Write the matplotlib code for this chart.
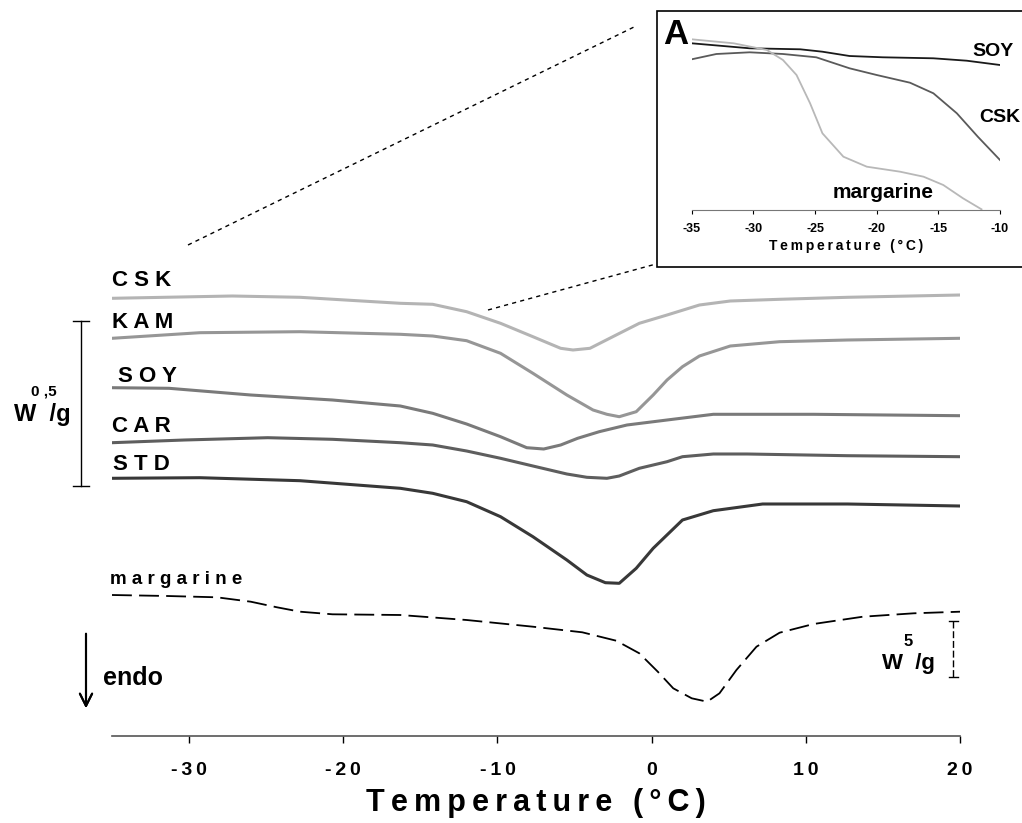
"""DSC melting curves of the fat samples, with the low-temperature inset."""

import matplotlib

matplotlib.use("Agg")
import matplotlib.pyplot as plt
from matplotlib.lines import Line2D
from matplotlib.patches import Rectangle

plt.rcParams["font.family"] = ["Liberation Sans", "DejaVu Sans"]
plt.rcParams["font.weight"] = "bold"

W, H = 1022, 823
THIN = "\u2009"

# main panel: heat flow, arbitrary offset units (curves are stacked)
csk_t = [-35, -27.2, -22.8, -16.3, -14.2, -12.0, -9.8, -7.7, -5.9, -5.1, -4.0, -2.3, -0.8, 1.0, 3.1, 5.1, 8.3, 12.7, 20]
csk_y = [437.7, 440, 438.7, 432.7, 431.7, 424.3, 412.7, 399.3, 387.7, 386, 387.7, 401, 412.7, 421, 431, 435, 436.7, 438.7, 441]

kam_t = [-35, -29.3, -22.8, -16.3, -14.2, -12.0, -9.8, -7.7, -5.5, -3.8, -2.9, -2.1, -1.0, 0.1, 1.0, 2.0, 3.1, 5.1, 8.3, 12.7, 20]
kam_y = [397.7, 403.3, 404.3, 401.7, 400, 395.3, 382.7, 362.7, 341, 326, 321.7, 319.3, 324.3, 341, 356, 369.3, 380, 390, 394.3, 396, 397.7]

soy_t = [-35, -31.3, -26.0, -20.7, -16.3, -14.2, -12.0, -9.8, -8.1, -7.0, -5.9, -4.8, -3.4, -1.6, 1.0, 3.1, 4.0, 10.5, 20]
soy_y = [348.3, 347.7, 341, 336, 330, 322.7, 312, 299.3, 288.3, 287, 291, 297.7, 304.3, 311, 316, 320, 321.7, 321.7, 320.3]

car_t = [-35, -30.3, -24.9, -20.7, -16.3, -14.2, -12.0, -9.8, -7.7, -5.5, -4.2, -2.9, -2.1, -0.8, 1.0, 2.0, 4.0, 6.2, 12.7, 20]
car_y = [293.3, 296, 298.3, 296.7, 293.3, 291, 285, 277.7, 270, 262, 258.7, 257.7, 260, 267.7, 274.3, 279.3, 282, 282, 280.3, 279.3]

std_t = [-35, -29.3, -22.8, -16.3, -14.2, -12.0, -9.8, -7.7, -5.5, -4.2, -3.0, -2.1, -1.0, 0.1, 2.0, 4.0, 7.2, 12.7, 20]
std_y = [257.7, 258.3, 255.3, 247.7, 242.7, 234.3, 219.3, 199.3, 176, 161, 153.3, 152.7, 167.7, 187.7, 216, 225.3, 232, 232, 230]

marg_t = [-35, -31.4, -28.2, -26.0, -24.3, -22.8, -20.7, -16.3, -12.0, -7.7, -4.5, -2.3, -0.8, 0.4, 1.4, 2.6, 3.6,
          4.4, 5.5, 6.8, 8.3, 10.5, 13.7, 17.0, 20]
marg_y = [141, 140, 138.7, 134.3, 128.7, 124.3, 121.7, 121, 116, 109.3, 103.7, 95.3, 82.7, 64.3, 47.7, 37.7, 34.3,
          42.7, 66, 89.3, 103.3, 112, 119.3, 122.7, 124.3]

main_ticks = [-30, -20, -10, 0, 10, 20]
main_ticklabels = ["-30", "-20", "-10", "0", "10", "20"]

# inset A: -35 .. -10 degC
in_soy_t = [-35, -30.3, -26.2, -24.4, -22.2, -19.5, -15.4, -12.7, -10]
in_soy_y = [166.7, 161.7, 160.7, 158.3, 154, 152.7, 151.7, 149.3, 145]

in_csk_t = [-35, -33, -30.3, -27.6, -24.9, -22.2, -20.0, -17.3, -15.4, -13.5, -11.8, -10]
in_csk_y = [150.7, 156, 157.7, 156, 152.7, 141.7, 135, 127.3, 116.7, 96.7, 73.3, 50]

in_marg_t = [-35, -31.6, -28.9, -27.6, -26.5, -25.4, -24.4, -22.7, -20.8, -18.1, -16.2, -14.6, -13, -11.5]
in_marg_y = [170.7, 166.7, 160, 150, 135, 106.7, 76.7, 53.3, 43.3, 38.3, 33.3, 25, 11.7, 0.7]

inset_ticks = [-35, -30, -25, -20, -15, -10]
inset_ticklabels = ["-35", "-30", "-25", "-20", "-15", "-10"]


def fx(x):
    return x / W


def fy(y):
    return 1 - y / H


def spaced(s):
    # loose letter tracking like the original figure
    return THIN.join(s)


fig = plt.figure(figsize=(W / 100, H / 100), dpi=100)

# ---- main panel
ax = fig.add_axes([fx(112), fy(736), fx(960) - fx(112), fy(250) - fy(736)])
ax.plot(csk_t, csk_y, color="#b4b4b4", lw=2.2)
ax.plot(kam_t, kam_y, color="#969696", lw=2.2)
ax.plot(soy_t, soy_y, color="#7a7a7a", lw=2.2)
ax.plot(car_t, car_y, color="#5e5e5e", lw=2.2)
ax.plot(std_t, std_y, color="#383838", lw=2.2)
ax.plot(marg_t, marg_y, color="black", lw=1.3, ls=(0, (11, 4)))
ax.set_xlim(-35, 20)
ax.set_ylim(0, 486)
for side in ("left", "right", "top"):
    ax.spines[side].set_visible(False)
ax.spines["bottom"].set_color("#555555")
ax.spines["bottom"].set_linewidth(1.2)
ax.set_yticks([])
ax.set_xticks(main_ticks)
ax.set_xticklabels([spaced(s) for s in main_ticklabels], fontsize=14, fontweight="bold")
ax.tick_params(axis="x", direction="out", length=5, width=1, pad=14)
ax.set_xlabel(spaced("Temperature (°C)"), fontsize=22, fontweight="bold", labelpad=6)

# curve labels
for txt, x, y in [("C S K", 112, 281), ("K A M", 112, 322), ("S O Y", 118, 377),
                  ("C A R", 112, 427), ("S T D", 113, 465)]:
    fig.text(fx(x), fy(y), txt, fontsize=16, fontweight="bold", va="center", ha="left")
fig.text(fx(110), fy(580), "m a r g a r i n e", fontsize=13.5, fontweight="bold", va="center", ha="left")

# 0,5 W/g scale bar
fig.add_artist(Line2D([fx(81), fx(81)], [fy(321), fy(486)], color="black", lw=1))
fig.add_artist(Line2D([fx(73), fx(89)], [fy(321), fy(321)], color="black", lw=1))
fig.add_artist(Line2D([fx(73), fx(89)], [fy(486), fy(486)], color="black", lw=1))
fig.text(fx(44), fy(392), "0 ,5", fontsize=11, fontweight="bold", ha="center", va="center")
fig.text(fx(42), fy(415), "W  /g", fontsize=17, fontweight="bold", ha="center", va="center")

# 5 W/g scale bar (margarine)
fig.add_artist(Line2D([fx(953), fx(953)], [fy(621), fy(677)], color="black", lw=1, ls=(0, (5, 2))))
fig.add_artist(Line2D([fx(949), fx(958)], [fy(621), fy(621)], color="black", lw=1))
fig.add_artist(Line2D([fx(949), fx(958)], [fy(677), fy(677)], color="black", lw=1))
fig.text(fx(908), fy(641), "5", fontsize=12, fontweight="bold", ha="center", va="center")
fig.text(fx(908), fy(663), "W  /g", fontsize=16, fontweight="bold", ha="center", va="center")

# endo arrow
fig.add_artist(plt.annotate("", xy=(fx(86), fy(711)), xytext=(fx(86), fy(631)),
                            xycoords="figure fraction", textcoords="figure fraction",
                            arrowprops=dict(arrowstyle="->", lw=1.5, color="black",
                                            mutation_scale=22)))
fig.text(fx(103), fy(678), "endo", fontsize=18, fontweight="bold", ha="left", va="center")

# dashed zoom lines
fig.add_artist(Line2D([fx(188), fx(634)], [fy(245), fy(27)], color="black", lw=1, ls=(0, (3, 3))))
fig.add_artist(Line2D([fx(488), fx(656)], [fy(310), fy(264)], color="black", lw=1, ls=(0, (3, 3))))

# ---- inset A
box = Rectangle((fx(657), fy(267)), fx(1030) - fx(657), fy(11) - fy(267),
                transform=fig.transFigure, facecolor="white", edgecolor="black", lw=1.2, zorder=2)
fig.add_artist(box)
ins = fig.add_axes([fx(691.7), fy(210), fx(1000) - fx(691.7), fy(30) - fy(210)])
ins.set_zorder(5)
ins.patch.set_alpha(0)
ins.plot(in_soy_t, in_soy_y, color="#1a1a1a", lw=1.3)
ins.plot(in_csk_t, in_csk_y, color="#5a5a5a", lw=1.3)
ins.plot(in_marg_t, in_marg_y, color="#b8b8b8", lw=1.3)
ins.set_xlim(-35, -10)
ins.set_ylim(0, 180)
for side in ("left", "right", "top"):
    ins.spines[side].set_visible(False)
ins.spines["bottom"].set_color("#777777")
ins.set_yticks([])
ins.set_xticks(inset_ticks)
ins.set_xticklabels(inset_ticklabels, fontsize=9, fontweight="bold")
ins.tick_params(axis="x", direction="out", length=3, width=0.8, pad=6)
ins.set_xlabel(spaced("Temperature (°C)"), fontsize=10, fontweight="bold", labelpad=3)

fig.text(fx(663), fy(34), "A", fontsize=25, fontweight="bold", ha="left", va="center", zorder=6)
fig.text(fx(972), fy(52), "SOY", fontsize=14, fontweight="bold", ha="left", va="center", zorder=6)
fig.text(fx(979), fy(118), "CSK", fontsize=14, fontweight="bold", ha="left", va="center", zorder=6)
fig.text(fx(833), fy(193), "margarine", fontsize=15, fontweight="bold", ha="left", va="center", zorder=6)

fig.savefig("out.png", dpi=100)
